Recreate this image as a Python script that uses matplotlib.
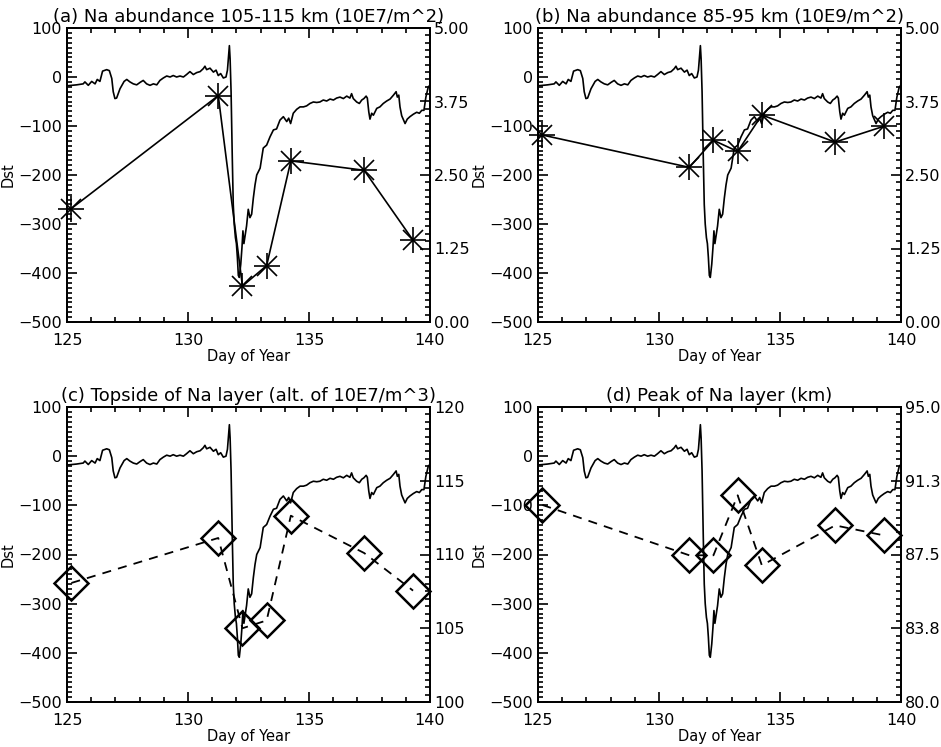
import matplotlib
matplotlib.use("Agg")
import matplotlib.pyplot as plt
from matplotlib.ticker import MultipleLocator, FixedLocator, AutoMinorLocator

# Dst index
dst_day = [125.00, 125.40, 125.67, 125.74, 125.88, 126.02, 126.16, 126.25, 126.36, 126.47,
           126.64, 126.75, 126.85, 126.91, 126.98, 127.05, 127.19, 127.36, 127.47, 127.60,
           127.74, 127.88, 128.02, 128.15, 128.29, 128.43, 128.57, 128.71, 128.84, 128.98,
           129.12, 129.26, 129.39, 129.53, 129.67, 129.81, 129.94, 130.08, 130.22, 130.36,
           130.50, 130.63, 130.70, 130.77, 130.91, 131.05, 131.16, 131.25, 131.35, 131.46,
           131.57, 131.63, 131.68, 131.71, 131.74, 131.78, 131.83, 131.87, 131.91, 131.96,
           132.00, 132.04, 132.08, 132.12, 132.18, 132.23, 132.27, 132.31, 132.37, 132.42,
           132.49, 132.56, 132.63, 132.70, 132.77, 132.84, 132.98, 133.11, 133.25, 133.39,
           133.53, 133.66, 133.80, 133.94, 134.08, 134.16, 134.24, 134.35, 134.49, 134.63,
           134.77, 134.90, 135.04, 135.18, 135.32, 135.45, 135.59, 135.73, 135.87, 136.01,
           136.14, 136.28, 136.42, 136.56, 136.69, 136.76, 136.83, 136.97, 137.08, 137.18,
           137.27, 137.36, 137.41, 137.47, 137.52, 137.59, 137.66, 137.80, 137.93, 138.07,
           138.21, 138.35, 138.49, 138.60, 138.65, 138.71, 138.76, 138.83, 138.97, 139.06,
           139.17, 139.31, 139.45, 139.56, 139.66, 139.75, 139.83, 139.93, 140.00]
dst = [-18, -16, -14, -10, -17, -9, -14, -5, -9, 12,
       15, 13, -3, -30, -44, -43, -24, -9, -5, -10,
       -14, -16, -11, -7, -14, -17, -14, -16, -7, -2,
       2, 0, 3, 0, 2, 0, 5, 11, 5, 9,
       11, 17, 22, 15, 18, 10, 14, 3, 7, -2,
       0, 14, 44, 64, 37, -30, -165, -260, -300, -328,
       -340, -368, -405, -409, -382, -348, -314, -340, -321, -304,
       -270, -287, -280, -247, -220, -200, -186, -145, -139, -122,
       -108, -106, -88, -81, -91, -84, -95, -74, -66, -61,
       -61, -59, -54, -51, -52, -51, -47, -49, -45, -47,
       -43, -41, -44, -39, -43, -34, -44, -51, -54, -47,
       -44, -39, -43, -71, -86, -74, -78, -64, -61, -54,
       -49, -45, -37, -30, -41, -37, -61, -79, -95, -86,
       -81, -76, -72, -74, -68, -68, -41, -20, -17]

# Na lidar observations
obs_day = [125.18, 131.25, 132.25, 133.25, 134.25, 137.28, 139.3]
na_abund_high = [1.93, 3.85, 0.61, 0.96, 2.74, 2.58, 1.39]     # 10E7/m^2
na_abund_main = [3.18, 2.63, 3.09, 2.90, 3.52, 3.06, 3.33]     # 10E9/m^2
topside_alt = [108.07, 111.12, 105.0, 105.53, 112.63, 110.1, 107.55]  # km
peak_alt = [90.02, 87.46, 87.46, 90.51, 86.95, 88.98, 88.47]   # km

titles = ["(a) Na abundance 105-115 km (10E7/m^2)",
          "(b) Na abundance 85-95 km (10E9/m^2)",
          "(c) Topside of Na layer (alt. of 10E7/m^3)",
          "(d) Peak of Na layer (km)"]

W, H = 941, 747
fig = plt.figure(figsize=(W / 100, H / 100), dpi=100)

# axes boxes in pixels: left, top, right, bottom
boxes = [(67, 28, 430, 322), (538, 28, 901, 322),
         (67, 407, 430, 702), (538, 407, 901, 702)]

panels = [
    (na_abund_high, (0, 5), [0, 1.25, 2.5, 3.75, 5.0], ["0.00", "1.25", "2.50", "3.75", "5.00"], "asterisk"),
    (na_abund_main, (0, 5), [0, 1.25, 2.5, 3.75, 5.0], ["0.00", "1.25", "2.50", "3.75", "5.00"], "asterisk"),
    (topside_alt, (100, 120), [100, 105, 110, 115, 120], ["100", "105", "110", "115", "120"], "diamond"),
    (peak_alt, (80, 95), [80, 83.75, 87.5, 91.25, 95], ["80.0", "83.8", "87.5", "91.3", "95.0"], "diamond"),
]

for box, title, (vals, rlim, rticks, rlabels, kind) in zip(boxes, titles, panels):
    l, t, r, b = box
    ax = fig.add_axes([l / W, 1 - b / H, (r - l) / W, (b - t) / H])
    ax.plot(dst_day, dst, color="black", lw=1.2)
    ax.set_xlim(125, 140)
    ax.set_ylim(-500, 100)
    ax.xaxis.set_major_locator(MultipleLocator(5))
    ax.xaxis.set_minor_locator(MultipleLocator(1))
    ax.yaxis.set_major_locator(MultipleLocator(100))
    ax.yaxis.set_minor_locator(MultipleLocator(10))
    ax.tick_params(which="both", direction="in", top=True, right=False, labelsize=11.5, width=1.2)
    ax.tick_params(which="major", length=7)
    ax.tick_params(which="minor", length=3.5)
    ax.tick_params(axis="x", pad=8)
    ax.set_xlabel("Day of Year", fontsize=10.5, labelpad=1)
    ax.set_ylabel("Dst", fontsize=10.5, labelpad=2)
    ax.set_title(title, fontsize=13, pad=4)
    for s in ax.spines.values():
        s.set_linewidth(1.3)

    ax2 = ax.twinx()
    if kind == "asterisk":
        ax2.plot(obs_day, vals, color="black", lw=1.2, clip_on=False)
        ax2.plot(obs_day, vals, ls="none", marker="+", color="black",
                 markersize=19, markeredgewidth=1.2, clip_on=False)
        ax2.plot(obs_day, vals, ls="none", marker="x", color="black",
                 markersize=14, markeredgewidth=1.2, clip_on=False)
    else:
        ax2.plot(obs_day, vals, color="black", lw=1.3, ls=(0, (5, 4)), marker="D",
                 markersize=17, markerfacecolor="none", markeredgewidth=1.8, clip_on=False)
    ax2.set_ylim(*rlim)
    ax2.yaxis.set_major_locator(FixedLocator(rticks))
    ax2.set_yticklabels(rlabels)
    ax2.yaxis.set_minor_locator(AutoMinorLocator(10))
    ax2.tick_params(which="both", direction="in", labelsize=11.5, width=1.2, pad=3)
    ax2.tick_params(which="major", length=7)
    ax2.tick_params(which="minor", length=3.5)
    for s in ax2.spines.values():
        s.set_linewidth(1.3)

fig.savefig("out.png", dpi=100)
